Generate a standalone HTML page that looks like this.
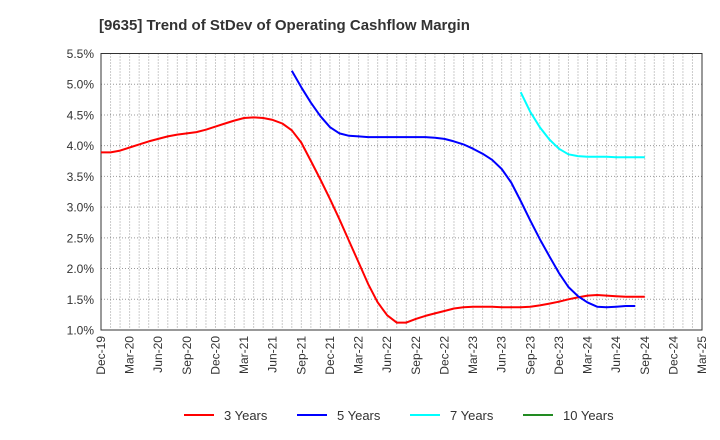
<!DOCTYPE html>
<html><head><meta charset="utf-8"><style>
html,body{margin:0;padding:0;background:#fff;}
svg{display:block;font-family:"Liberation Sans",Arial,sans-serif;}
</style></head><body>
<svg id="chart" width="720" height="440" viewBox="0 0 720 440" xmlns="http://www.w3.org/2000/svg">
<text x="99" y="30" font-size="15" font-weight="bold" fill="#333">[9635]  Trend of StDev of Operating Cashflow Margin</text>
<g id="grid"></g>
<g id="axes"></g>
<g id="series"></g>
<g id="legend"></g>
</svg>
<script>
const xTickLabels=["Dec-19","Mar-20","Jun-20","Sep-20","Dec-20","Mar-21","Jun-21","Sep-21","Dec-21","Mar-22","Jun-22","Sep-22","Dec-22","Mar-23","Jun-23","Sep-23","Dec-23","Mar-24","Jun-24","Sep-24","Dec-24","Mar-25"];
const yTickValues=[1.0,1.5,2.0,2.5,3.0,3.5,4.0,4.5,5.0,5.5];
const seriesNames=["3 Years","5 Years","7 Years","10 Years"];
const seriesColors=["#ff0000","#0000ff","#00ffff","#228b22"];
// monthly values starting Dec-19 (index 0)
const years3=[3.89,3.89,3.92,3.97,4.02,4.07,4.11,4.15,4.18,4.20,4.22,4.26,4.31,4.36,4.41,4.45,4.46,4.45,4.42,4.36,4.25,4.05,3.75,3.45,3.13,2.80,2.45,2.10,1.75,1.45,1.24,1.12,1.12,1.18,1.23,1.27,1.31,1.35,1.37,1.38,1.38,1.38,1.37,1.37,1.37,1.38,1.40,1.43,1.46,1.50,1.53,1.56,1.57,1.56,1.55,1.54,1.54,1.54];
const years5Start=20;
const years5=[5.22,4.95,4.70,4.48,4.30,4.20,4.16,4.15,4.14,4.14,4.14,4.14,4.14,4.14,4.14,4.13,4.11,4.07,4.02,3.95,3.87,3.77,3.62,3.40,3.10,2.78,2.48,2.20,1.93,1.70,1.55,1.45,1.38,1.37,1.38,1.39,1.39];
const years7Start=44;
const years7=[4.87,4.55,4.30,4.10,3.95,3.86,3.83,3.82,3.82,3.82,3.81,3.81,3.81,3.81];
const years10=[];

const NS="http://www.w3.org/2000/svg";
const L=101,R=702,T=53.5,B=330,months=63;
const xScale=i=>L+(R-L)*i/months;
const yScale=v=>B-(B-T)*(v-1.0)/4.5;
function mk(tag,attrs,parent){const e=document.createElementNS(NS,tag);for(const k in attrs)e.setAttribute(k,attrs[k]);parent.appendChild(e);return e;}
const grid=document.getElementById('grid'),axes=document.getElementById('axes'),series=document.getElementById('series'),legend=document.getElementById('legend');
for(let m=1;m<months;m++){
  const l=mk('line',{x1:xScale(m),x2:xScale(m),y1:T,y2:B,stroke:'#999','stroke-width':1,'stroke-dasharray':'1,2'},grid);
  
  
}
yTickValues.forEach(v=>{
  const y=yScale(v);
  const l=mk('line',{x1:L,x2:R,y1:y,y2:y,stroke:'#999','stroke-width':1,'stroke-dasharray':'1,2'},grid);
  
  
  const t=mk('text',{x:L-7,y:y+4.5,'text-anchor':'end','font-size':12,fill:'#333'},axes);
  t.textContent=v.toFixed(1)+'%';
  
  
});
const frame=mk('rect',{x:L,y:T,width:R-L,height:B-T,fill:'none',stroke:'#333','stroke-width':1},axes);


xTickLabels.forEach((s,i)=>{
  const x=xScale(i*3)+4;
  const t=mk('text',{x:x,y:336,'text-anchor':'end','font-size':12,fill:'#333',transform:`rotate(-90 ${x} 336)`},axes);
  t.textContent=s;
  
  
});
function drawLine(vals,start,color,name){
  if(!vals.length)return;
  const pts=vals.map((v,i)=>xScale(start+i).toFixed(1)+','+yScale(v).toFixed(1)).join(' ');
  const p=mk('polyline',{points:pts,fill:'none',stroke:color,'stroke-width':2,'stroke-linejoin':'round'},series);
  
  
}
drawLine(years3,0,seriesColors[0],'line-3-years');
drawLine(years5,years5Start,seriesColors[1],'line-5-years');
drawLine(years7,years7Start,seriesColors[2],'line-7-years');
drawLine(years10,0,seriesColors[3],'line-10-years');
seriesNames.forEach((n,i)=>{
  const x=184+i*113;
  const g=mk('g',{},legend);
  
  
  mk('line',{x1:x,x2:x+30,y1:415,y2:415,stroke:seriesColors[i],'stroke-width':2},g);
  const t=mk('text',{x:x+40,y:420,'font-size':13,fill:'#333'},g);
  t.textContent=n;
});
</script>
</body></html>
